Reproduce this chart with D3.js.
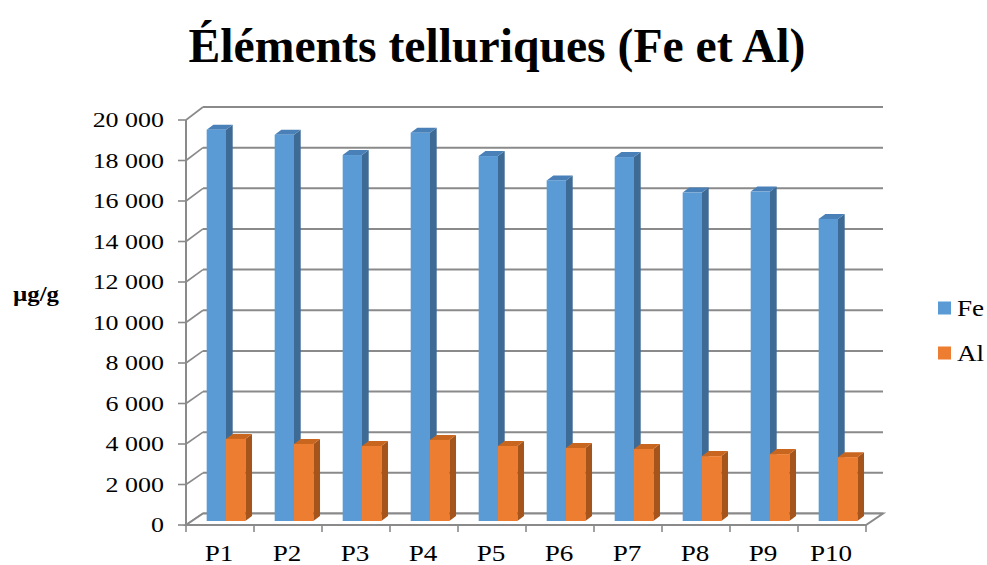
<!DOCTYPE html>
<html lang="fr">
<head>
<meta charset="utf-8">
<title>Éléments telluriques (Fe et Al)</title>
<script src="https://cdn.jsdelivr.net/npm/d3@7"></script>
<style>
  html, body { margin: 0; padding: 0; background: #ffffff; }
  svg { display: block; }
</style>
</head>
<body>
<div id="chart"></div>
<script>
// Sampling points and concentrations (µg/g)
const categories = ["P1", "P2", "P3", "P4", "P5", "P6", "P7", "P8", "P9", "P10"];
const seriesNames = ["Fe", "Al"];
const feValues = [19300, 19050, 18050, 19150, 18000, 16800, 17950, 16200, 16250, 14900];
const alValues = [4050, 3800, 3700, 4000, 3700, 3600, 3550, 3200, 3300, 3150];
const yTicks = [0, 2000, 4000, 6000, 8000, 10000, 12000, 14000, 16000, 18000, 20000];
const yTickLabels = ["0", "2 000", "4 000", "6 000", "8 000", "10 000", "12 000", "14 000", "16 000", "18 000", "20 000"];

const W = 987, H = 565;
const FONT = "'Liberation Serif', 'Times New Roman', serif";
const colors = {
  Fe: { front: "#5b9bd5", side: "#3d6b95", top: "#4a80b8" },
  Al: { front: "#ed7d31", side: "#a5541c", top: "#c8661f" }
};
const gridColor = "#8a8a8a";
const textStretch = 1.18;   // horizontal stretch applied to all labels

const svg = d3.select("#chart").append("svg")
  .attr("width", W).attr("height", H);

// Category axis on the front edge of the floor
const x = d3.scaleBand().domain(categories).range([186, 866]).paddingInner(0).paddingOuter(0);
// Value scales: front plane, back wall, and the plane where bars stand
const yFront = d3.scaleLinear().domain([0, 20000]).range([525, 120]);
const yBack = d3.scaleLinear().domain([0, 20000]).range([513.5, 107]);
const yBar = d3.scaleLinear().domain([0, 20000]).range([521, 115.5]);
const depth = { dx: 17 };          // floor depth offset (x)
const barShift = 6;                // bars sit partway into the floor
const bar3d = { dx: 6.7, dy: -5 }; // visible thickness of each column
const sub = d3.scaleBand().domain(seriesNames).range([0, x.bandwidth()]).paddingInner(0).paddingOuter(0.76);

const xL = x.range()[0], xR = x.range()[1];

// Back wall gridlines
svg.append("g").selectAll("line").data(yTicks).join("line")
  .attr("x1", xL + depth.dx).attr("x2", xR + depth.dx)
  .attr("y1", d => yBack(d)).attr("y2", d => yBack(d))
  .attr("stroke", gridColor).attr("stroke-width", 2);

// Side wall lines joining the value axis to the back wall
svg.append("g").selectAll("line").data(yTicks).join("line")
  .attr("x1", xL).attr("x2", xL + depth.dx)
  .attr("y1", d => yFront(d)).attr("y2", d => yBack(d))
  .attr("stroke", gridColor).attr("stroke-width", 1.6);

// Floor
svg.append("path")
  .attr("d", `M${xL},${yFront(0)}L${xR},${yFront(0)}L${xR + depth.dx},${yBack(0)}L${xL + depth.dx},${yBack(0)}Z`)
  .attr("fill", "#ffffff").attr("stroke", gridColor).attr("stroke-width", 2);

// Value axis line and tick marks
svg.append("line")
  .attr("x1", xL).attr("x2", xL).attr("y1", yFront(20000)).attr("y2", yFront(0))
  .attr("stroke", gridColor).attr("stroke-width", 2);
svg.append("g").selectAll("line").data(yTicks).join("line")
  .attr("x1", xL - 8).attr("x2", xL)
  .attr("y1", d => yFront(d)).attr("y2", d => yFront(d))
  .attr("stroke", gridColor).attr("stroke-width", 1.6);

// Category tick marks
const xTickPos = categories.map(c => x(c)).concat([xR]);
svg.append("g").selectAll("line").data(xTickPos).join("line")
  .attr("x1", d => d).attr("x2", d => d)
  .attr("y1", yFront(0)).attr("y2", yFront(0) + 7)
  .attr("stroke", gridColor).attr("stroke-width", 1.6);

// Columns
const bars = [];
categories.forEach((c, i) => {
  bars.push({ cat: c, s: "Fe", v: feValues[i] });
  bars.push({ cat: c, s: "Al", v: alValues[i] });
});
const barG = svg.append("g");
bars.forEach(b => {
  const x0 = x(b.cat) + sub(b.s) + barShift;
  const x1 = x0 + sub.bandwidth();
  const y0 = yBar(0), yt = yBar(b.v);
  const { dx, dy } = bar3d;
  const col = colors[b.s];
  const g = barG.append("g");
  g.append("path")
    .attr("d", `M${x1},${y0}L${x1 + dx},${y0 + dy}L${x1 + dx},${yt + dy}L${x1},${yt}Z`)
    .attr("fill", col.side);
  g.append("path")
    .attr("d", `M${x0},${yt}L${x0 + dx},${yt + dy}L${x1 + dx},${yt + dy}L${x1},${yt}Z`)
    .attr("fill", col.top);
  g.append("rect")
    .attr("x", x0).attr("y", yt).attr("width", x1 - x0).attr("height", y0 - yt)
    .attr("fill", col.front);
});

// Value labels
svg.append("g").selectAll("text").data(yTicks).join("text")
  .attr("transform", d => `translate(164,${yFront(d)}) scale(${textStretch},1)`)
  .attr("text-anchor", "end").attr("dy", "0.34em")
  .style("font-family", FONT).style("font-size", "22px").attr("fill", "#000")
  .text((d, i) => yTickLabels[i]);

// Category labels
svg.append("g").selectAll("text").data(categories).join("text")
  .attr("transform", d => `translate(${x(d) + x.bandwidth() / 2 - 1},561) scale(${textStretch},1)`)
  .attr("text-anchor", "middle")
  .style("font-family", FONT).style("font-size", "23px").attr("fill", "#000")
  .text(d => d);

// Axis title
svg.append("text")
  .attr("transform", `translate(36,301) scale(${textStretch},1)`)
  .attr("text-anchor", "middle")
  .style("font-family", FONT).style("font-size", "21px").style("font-weight", "bold").attr("fill", "#000")
  .text("µg/g");

// Chart title
svg.append("text")
  .attr("x", 497).attr("y", 62)
  .attr("text-anchor", "middle")
  .attr("textLength", 617).attr("lengthAdjust", "spacingAndGlyphs")
  .style("font-family", FONT).style("font-size", "48px").style("font-weight", "bold").attr("fill", "#000")
  .text("Éléments telluriques (Fe et Al)");

// Legend
const legend = svg.append("g");
seriesNames.forEach((s, i) => {
  const ly = 308 + i * 45;
  legend.append("rect")
    .attr("x", 938).attr("y", ly - 6.5).attr("width", 13).attr("height", 13)
    .attr("fill", colors[s].front);
  legend.append("text")
    .attr("transform", `translate(957,${ly}) scale(${textStretch},1)`)
    .attr("dy", "0.34em")
    .style("font-family", FONT).style("font-size", "23px").attr("fill", "#000")
    .text(s);
});
</script>
</body>
</html>
